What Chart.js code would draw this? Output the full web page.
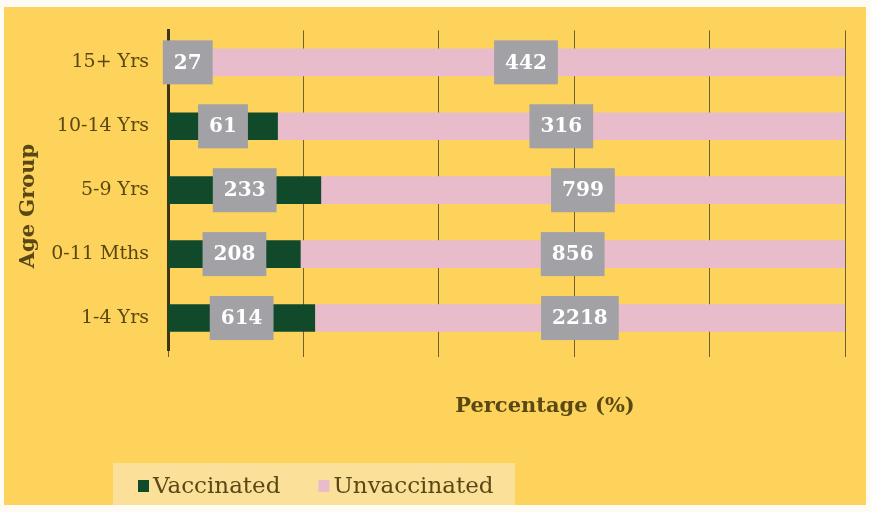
<!DOCTYPE html>
<html>
<head>
<meta charset="utf-8">
<script src="https://cdn.jsdelivr.net/npm/chart.js@4"></script>
<style>
  body { margin: 0; background: #fdfbf3; }
  #wrap { width: 871px; height: 512px; position: relative; }
</style>
</head>
<body>
<div id="wrap"><canvas id="ageChart" width="871" height="512"></canvas></div>
<script>
// Age groups, top to bottom
const ageGroups = ["15+ Yrs", "10-14 Yrs", "5-9 Yrs", "0-11 Mths", "1-4 Yrs"];
// counts shown in the labels
const vaccinated = [27, 61, 233, 208, 614];
const unvaccinated = [442, 316, 799, 856, 2218];
// x axis ticks (no labels printed, only grid lines)
const pctTicks = [0, 20, 40, 60, 80, 100];

// share of each group, used for bar lengths (100% stacked)
const vaccPct = vaccinated.map((v, i) => (v / (v + unvaccinated[i])) * 100);
const unvaccPct = unvaccinated.map((u, i) => (u / (vaccinated[i] + u)) * 100);

const counts = [vaccinated, unvaccinated];
const textColor = "#5a4814";
const serif = "'DejaVu Serif', serif";

// yellow panel with a thin pale border
const panelBg = {
  id: "panelBg",
  beforeDraw(chart) {
    const ctx = chart.ctx;
    ctx.save();
    ctx.fillStyle = "#fdd35b";
    ctx.fillRect(4, 7, 862, 498);
    ctx.restore();
  },
};

// grey boxes with the counts, centred on each segment
const valueBoxes = {
  id: "valueBoxes",
  afterDatasetsDraw(chart) {
    const ctx = chart.ctx;
    ctx.save();
    ctx.font = "bold 20px " + serif;
    ctx.textAlign = "center";
    ctx.textBaseline = "middle";
    chart.data.datasets.forEach((ds, d) => {
      chart.getDatasetMeta(d).data.forEach((bar, i) => {
        const txt = String(counts[d][i]);
        const cx = (bar.x + bar.base) / 2;
        const w = ctx.measureText(txt).width + 22;
        const h = 44;
        ctx.fillStyle = "#a2a1a6";
        ctx.fillRect(cx - w / 2, bar.y - h / 2, w, h);
        ctx.fillStyle = "#ffffff";
        ctx.fillText(txt, cx, bar.y + 1);
      });
    });
    ctx.restore();
  },
};

// axis titles and legend
const extras = {
  id: "extras",
  afterDraw(chart) {
    const ctx = chart.ctx;
    ctx.save();
    ctx.fillStyle = textColor;
    ctx.textBaseline = "middle";

    // x title
    ctx.font = "bold 21px " + serif;
    ctx.textAlign = "center";
    ctx.fillText("Percentage (%)", 545, 407);

    // y title
    ctx.save();
    ctx.translate(29, 206);
    ctx.rotate(-Math.PI / 2);
    ctx.fillText("Age Group", 0, 0);
    ctx.restore();

    // legend
    ctx.fillStyle = "#fbe09a";
    ctx.fillRect(113, 463, 402, 42);
    ctx.font = "23px " + serif;
    ctx.textAlign = "left";
    let x = 138;
    chart.data.datasets.forEach((ds) => {
      ctx.fillStyle = ds.backgroundColor;
      ctx.fillRect(x, 480, 11, 12);
      ctx.fillStyle = textColor;
      ctx.fillText(ds.label, x + 15, 487);
      x += ctx.measureText(ds.label).width + 15 + 38;
    });
    ctx.restore();
  },
};

const ctx = document.getElementById("ageChart").getContext("2d");
new Chart(ctx, {
  type: "bar",
  data: {
    labels: ageGroups,
    datasets: [
      {
        label: "Vaccinated",
        data: vaccPct,
        backgroundColor: "#114a2a",
        barThickness: 27,
      },
      {
        label: "Unvaccinated",
        data: unvaccPct,
        backgroundColor: "#e8bccb",
        barThickness: 27,
      },
    ],
  },
  options: {
    indexAxis: "y",
    responsive: false,
    animation: false,
    layout: {
      padding: { top: 25, right: 26, bottom: 155, left: 0 },
    },
    scales: {
      x: {
        stacked: true,
        min: 0,
        max: 100,
        afterBuildTicks: (scale) => {
          scale.ticks = pctTicks.map((v) => ({ value: v }));
        },
        afterFit: (scale) => {
          scale.height = 7;
        },
        grid: {
          color: "#6f6130",
          lineWidth: 1,
          drawTicks: true,
          tickLength: 7,
        },
        border: { display: false },
        ticks: { display: false },
      },
      y: {
        stacked: true,
        afterFit: (scale) => {
          scale.width = 168;
        },
        grid: { display: false, drawTicks: false },
        border: { display: true, color: "#3f3410", width: 3 },
        ticks: {
          color: textColor,
          font: { family: serif, size: 19 },
          padding: 19,
        },
      },
    },
    plugins: {
      legend: { display: false },
      tooltip: { enabled: false },
    },
  },
  plugins: [panelBg, valueBoxes, extras],
});
</script>
</body>
</html>
